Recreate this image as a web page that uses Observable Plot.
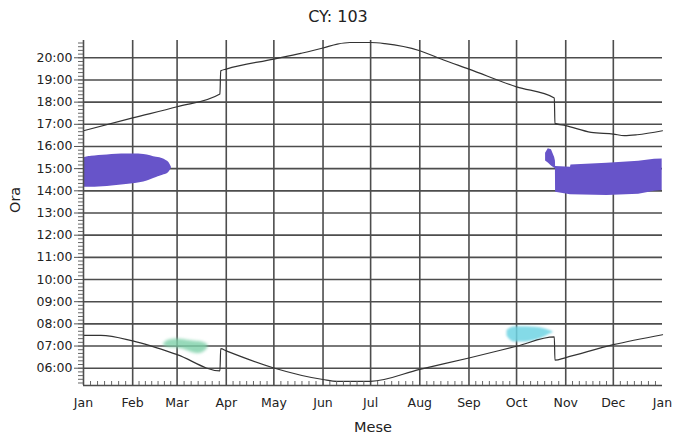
<!DOCTYPE html>
<html>
<head>
<meta charset="utf-8">
<script src="https://cdn.jsdelivr.net/npm/d3@7"></script>
<script src="https://cdn.jsdelivr.net/npm/@observablehq/plot@0.6"></script>
<style>
  html, body { margin: 0; padding: 0; background: #fff; }
  #chart svg { display: block; }
</style>
</head>
<body>
<div id="chart"></div>
<script>
// ---- Axis structure ----
const monthStarts = [0, 31, 59, 90, 120, 151, 181, 212, 243, 273, 304, 334, 365];
const monthLabels = ["Jan", "Feb", "Mar", "Apr", "May", "Jun", "Jul", "Aug", "Sep", "Oct", "Nov", "Dec", "Jan"];
const hourTicks = [6, 7, 8, 9, 10, 11, 12, 13, 14, 15, 16, 17, 18, 19, 20];
const hourLabels = ["06:00", "07:00", "08:00", "09:00", "10:00", "11:00", "12:00", "13:00", "14:00", "15:00", "16:00", "17:00", "18:00", "19:00", "20:00"];
const yDomain = [5.22, 20.78];
const xDomain = [0, 365];

// ---- Sunset (day of year, hour) ----
const sunsetDay  = [0, 31, 59, 86, 86.5, 90, 120, 137, 151, 160, 168, 181, 190, 212, 227, 243, 273, 296.8, 297.2, 304, 320, 334, 341, 349, 365];
const sunsetHour = [16.71, 17.29, 17.79, 18.37, 19.41, 19.49, 19.94, 20.2, 20.44, 20.62, 20.69, 20.69, 20.64, 20.32, 19.9, 19.49, 18.69, 18.19, 17.04, 16.94, 16.64, 16.56, 16.49, 16.53, 16.71];

// ---- Sunrise (day of year, hour) ----
const sunriseDay  = [0, 11, 31, 59, 86, 86.5, 90, 120, 151, 160, 181, 212, 243, 273, 296.8, 297.2, 304, 334, 365];
const sunriseHour = [7.48, 7.48, 7.23, 6.61, 5.88, 6.88, 6.78, 6.01, 5.49, 5.41, 5.41, 5.95, 6.46, 6.99, 7.41, 6.36, 6.48, 7.06, 7.51];

// ---- Shadow areas (day, lower hour, upper hour) ----
const blobJanDay  = [0.5, 5, 15, 27, 38, 46, 50, 53, 54.5, 55.5];
const blobJanLow  = [14.16, 14.16, 14.2, 14.28, 14.4, 14.6, 14.7, 14.78, 14.9, 15.05];
const blobJanHigh = [15.5, 15.56, 15.62, 15.66, 15.64, 15.51, 15.45, 15.33, 15.2, 15.05];

const blobNovDay  = [291.3, 293, 295, 297, 297.5, 297.6, 307, 307.3, 330, 350, 360, 364.8];
const blobNovLow  = [15.35, 15.25, 15.12, 15.02, 15.0, 13.94, 13.82, 13.82, 13.79, 13.85, 13.98, 14.02];
const blobNovHigh = [15.7, 15.9, 15.85, 15.5, 15.35, 15.1, 15.06, 15.17, 15.24, 15.33, 15.42, 15.44];

const blobMarDay  = [50.5, 53, 58, 63, 68, 73, 77, 78.5];
const blobMarLow  = [7.02, 6.95, 6.92, 6.85, 6.72, 6.66, 6.8, 6.95];
const blobMarHigh = [7.1, 7.25, 7.32, 7.3, 7.24, 7.2, 7.12, 7.02];

const blobOctDay  = [267, 270, 276, 282, 288, 293, 296.5];
const blobOctLow  = [7.45, 7.22, 7.18, 7.22, 7.33, 7.5, 7.62];
const blobOctHigh = [7.7, 7.84, 7.87, 7.86, 7.82, 7.72, 7.62];

const titleText = "CY: 103";
const xLabel = "Mese";
const yLabel = "Ora";

// ---- Build tables ----
const zip = (xs, ys) => xs.map((x, i) => ({x, y: ys[i]}));
const band = (xs, lo, hi) => xs.map((x, i) => ({x, y1: lo[i], y2: hi[i]}));
const sunset = zip(sunsetDay, sunsetHour);
const sunrise = zip(sunriseDay, sunriseHour);

// minor ticks (axis structure)
const minorDays = [];
for (let m = 0; m < 12; m++) {
  const s = monthStarts[m], e = monthStarts[m + 1];
  for (let k = 1; k < 7; k++) minorDays.push(s + (e - s) * k / 7);
}
const minorHours = d3.range(yDomain[0], yDomain[1], 1 / 6).map(v => Math.round(v * 6) / 6).filter(v => v >= yDomain[0] && v <= yDomain[1]);

const gridColor = "#4d4d4d";

const chart = Plot.plot({
  width: 677,
  height: 439,
  marginLeft: 83,
  marginRight: 15,
  marginTop: 40,
  marginBottom: 54,
  style: {fontFamily: "DejaVu Sans", fontSize: "12.5px", color: "#222", background: "#fff"},
  x: {domain: xDomain, label: null},
  y: {domain: yDomain, label: null},
  marks: [
    Plot.gridY(hourTicks, {stroke: gridColor, strokeOpacity: 1, strokeWidth: 1.6}),
    Plot.gridX(monthStarts.slice(1, 12), {stroke: gridColor, strokeOpacity: 1, strokeWidth: 1.6}),
    Plot.areaY(band(blobMarDay, blobMarLow, blobMarHigh), {x: "x", y1: "y1", y2: "y2", fill: "#7ccfa8", fillOpacity: 0.8, curve: "catmull-rom", imageFilter: "blur(1.5px)"}),
    Plot.areaY(band(blobOctDay, blobOctLow, blobOctHigh), {x: "x", y1: "y1", y2: "y2", fill: "#6fd3e3", fillOpacity: 0.85, curve: "catmull-rom", imageFilter: "blur(1.2px)"}),
    Plot.areaY(band(blobJanDay, blobJanLow, blobJanHigh), {x: "x", y1: "y1", y2: "y2", fill: "#6754c9", curve: "catmull-rom"}),
    Plot.areaY(band(blobNovDay, blobNovLow, blobNovHigh), {x: "x", y1: "y1", y2: "y2", fill: "#6754c9", curve: "linear"}),
    Plot.line(sunset, {x: "x", y: "y", stroke: "#333", strokeWidth: 1.2, curve: "monotone-x"}),
    Plot.line(sunrise, {x: "x", y: "y", stroke: "#333", strokeWidth: 1.2, curve: "monotone-x"}),
    Plot.ruleX([xDomain[0]], {stroke: gridColor, strokeWidth: 1.6}),
    Plot.ruleY([yDomain[0]], {stroke: gridColor, strokeWidth: 1.6}),
    Plot.ruleX(minorDays, {stroke: "#666", strokeWidth: 1, insetTop: 341}),
    Plot.axisY(minorHours, {tickSize: 5, tickFormat: () => "", stroke: "#666", label: null}),
    Plot.axisY(hourTicks, {tickSize: 9, tickPadding: 2, tickFormat: h => hourLabels[hourTicks.indexOf(h)], stroke: "#555", fontSize: 12.5, label: null}),
    Plot.axisX(monthStarts, {tickSize: 0, tickPadding: 13, tickFormat: d => monthLabels[monthStarts.indexOf(d)], fontSize: 12.5, label: null}),
    Plot.text([titleText], {text: d => d, frameAnchor: "top", dx: -35, dy: -24, lineAnchor: "middle", fontSize: 16}),
    Plot.text([xLabel], {text: d => d, frameAnchor: "bottom", dy: 42, lineAnchor: "middle", fontSize: 14.5}),
    Plot.text([yLabel], {text: d => d, frameAnchor: "left", dx: -68, rotate: -90, lineAnchor: "middle", fontSize: 14.5})
  ]
});
document.getElementById("chart").appendChild(chart);
</script>
</body>
</html>
